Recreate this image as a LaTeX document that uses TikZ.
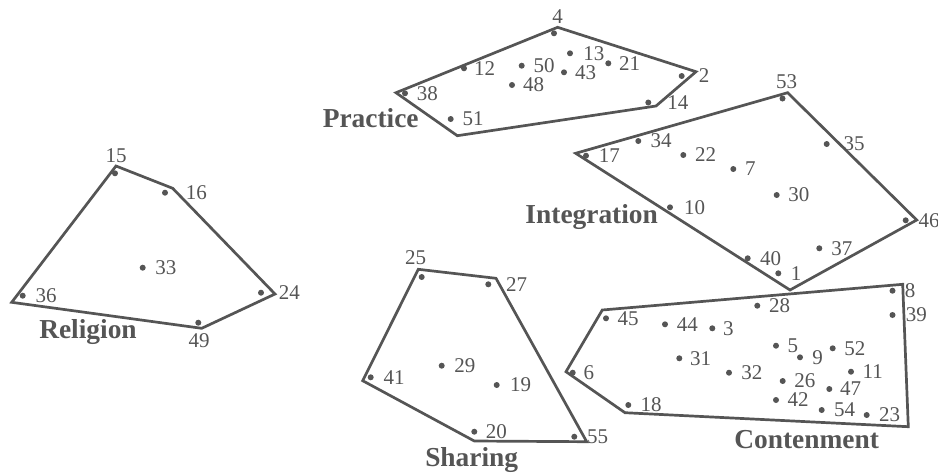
\documentclass[tikz,border=0pt]{standalone}
\usepackage{fontspec}
\setmainfont{Liberation Serif}
\usetikzlibrary{positioning}
\tikzset{every node/.append style={align=center}}
\definecolor{plotgray}{RGB}{85,85,85}

\begin{document}
\begin{tikzpicture}[x=0.5pt,y=-0.5pt,
  dot/.style={circle, fill=plotgray, inner sep=0pt, minimum size=3pt},
  num/.style={font=\fontsize{10.5}{12}\selectfont, text=plotgray, inner sep=0pt},
  theme/.style={font=\fontsize{13.7}{16}\selectfont\bfseries, text=plotgray, inner sep=0pt},
  hull/.style={draw=plotgray, line width=1.35pt}]

\useasboundingbox (0,0) rectangle (938,473);

% ── Religion ─────────────────────────────────────────────────────────────────
\draw[hull] (116,166) -- (172.7,188.3) -- (275,294) -- (201.7,328.3)
            -- (11.7,302.3) -- cycle;
\foreach \n/\x/\y/\g in {16/165/192.7/8.5pt, 33/142.7/267.7/4.4pt,
                         36/22.7/295.7/4.5pt, 24/261/292.7/7pt} {
  \node[dot] (p\n) at (\x,\y) {};
  \node[num, right=\g of p\n] (l\n) {\n};
}
\node[dot] (p15) at (115,173.3) {};
\node[num, above=3.6pt of p15, xshift=0.5pt] (l15) {15};
\node[dot] (p49) at (198.3,322.7) {};
\node[num, below=3.3pt of p49, xshift=0.4pt] (l49) {49};
\node[theme] (religion) at (88,332.5) {Religion};

% ── Practice ─────────────────────────────────────────────────────────────────
\draw[hull] (396,92.7) -- (557.6,27.3) -- (696,71.7) -- (656,106)
            -- (457.3,135.7) -- cycle;
\foreach \n/\x/\y/\g in {13/570/53.3/4.8pt, 50/521.7/65.7/4pt,
                         43/564/72.3/3.7pt, 21/608.3/63.3/3.5pt,
                         12/464/68.3/3.2pt, 48/512/85/3.7pt,
                         2/681.7/76/6.7pt, 38/405/93.3/4pt,
                         14/648.3/102.5/7.6pt, 51/450.7/119/4pt} {
  \node[dot] (p\n) at (\x,\y) {};
  \node[num, right=\g of p\n] (l\n) {\n};
}
\node[dot] (p4) at (554,33.3) {};
\node[num, above=3.2pt of p4, xshift=1.8pt] (l4) {4};
\node[theme] (practice) at (370.7,118.5) {Practice};

% ── Integration ──────────────────────────────────────────────────────────────
\draw[hull] (575.7,153.3) -- (787.6,92.7) -- (916.7,220) -- (790,290) -- cycle;
\foreach \n/\x/\y/\g in {35/826.7/144/6.5pt, 17/586/155.7/4.5pt,
                         34/638.3/141/4.3pt, 22/683.3/155/4pt,
                         7/733.3/169/4pt, 30/776.7/195/3.9pt,
                         10/670/207.3/5.1pt, 46/905.7/220.3/4.5pt,
                         37/819.3/248.3/4.1pt, 40/747.7/258.3/4.3pt,
                         1/778.3/273.3/4.4pt} {
  \node[dot] (p\n) at (\x,\y) {};
  \node[num, right=\g of p\n] (l\n) {\n};
}
\node[dot] (p53) at (782.5,98.5) {};
\node[num, above=3.2pt of p53, xshift=2pt] (l53) {53};
\node[theme] (integration) at (591.7,217.3) {Integration};

% ── Sharing ──────────────────────────────────────────────────────────────────
\draw[hull] (418.3,269.3) -- (496,278.3) -- (586.7,441.7) -- (474.3,441)
            -- (362.7,380.7) -- cycle;
\foreach \n/\x/\y/\g in {27/488.3/284.3/7pt, 29/441.7/365.7/4.4pt,
                         41/370.7/377.3/4.5pt, 19/496.7/385/4.8pt,
                         20/474.3/431.7/3.9pt, 55/574.3/436.7/4.5pt} {
  \node[dot] (p\n) at (\x,\y) {};
  \node[num, right=\g of p\n] (l\n) {\n};
}
\node[dot] (p25) at (421.7,277) {};
\node[num, above=4.5pt of p25, xshift=-3pt] (l25) {25};
\node[theme] (sharing) at (471.7,460) {Sharing};

% ── Contenment ───────────────────────────────────────────────────────────────
\draw[hull] (602.3,310) -- (902.7,284.3) -- (908.3,426.7) -- (625,412.7)
            -- (566,371.7) -- cycle;
\foreach \n/\x/\y/\g in {8/892.5/290.7/4.3pt, 28/757.3/305.7/4pt,
                         39/892.5/315/4.8pt, 45/606/318.3/3.9pt,
                         44/665/324.3/4pt, 3/712.3/328.3/3.5pt,
                         5/776/345.7/3.9pt, 9/800/357.3/4.3pt,
                         52/832.7/348.3/3.9pt, 31/679.3/358.3/3.5pt,
                         6/572.7/372.7/3.5pt, 32/729/372.7/4.3pt,
                         11/851/371.7/3.9pt, 26/782.7/381/3.9pt,
                         47/829.3/389/3.5pt, 42/776/400/3.9pt,
                         18/628.3/405/4.3pt, 54/821.7/410/4.3pt,
                         23/866.7/415/4.3pt} {
  \node[dot] (p\n) at (\x,\y) {};
  \node[num, right=\g of p\n] (l\n) {\n};
}
\node[theme] (contenment) at (806.7,440) {Contenment};

\end{tikzpicture}
\end{document}
